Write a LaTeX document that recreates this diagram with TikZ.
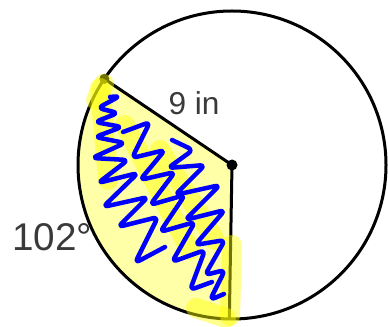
\documentclass[tikz,border=0pt]{standalone}
\usepackage{fontspec}
\setmainfont{Liberation Sans}
\usetikzlibrary{positioning}
\definecolor{MarkYellow}{HTML}{FFFF00}
\definecolor{PaleYellow}{HTML}{FFFFA8}
\definecolor{PenBlue}{HTML}{0000FF}
\definecolor{LabelGray}{HTML}{3A3A3A}

\begin{document}
\begin{tikzpicture}[
  x=0.02cm, y=-0.02cm,
  rim/.style={draw=black, line width=0.06cm},
  dot/.style={fill=black},
  marker/.style={draw=MarkYellow, draw opacity=0.45, line width=0.4cm, line cap=round},
  scribble/.style={draw=PenBlue, line width=0.09cm, line cap=round, line join=round, rounded corners=3pt},
  label/.style={text=LabelGray, inner sep=0pt}
]
\useasboundingbox (0,0) rectangle (388,327);
\coordinate (O) at (232,165);
\path (O) ++(-146:154) coordinate (A);
\path (O) ++(-269:154) coordinate (B);

% labels
\node[label, font=\fontsize{22}{22}\selectfont, anchor=west] (angle) at (12,237.5) {102°};
\node[label, font=\fontsize{18}{18}\selectfont] (radius) at (194,103.5) {9 in};

% shaded sector
\fill[PaleYellow] (O) -- (A) arc[start angle=-146, end angle=-269, radius=154] -- cycle;

% circle and radii
\draw[rim] (O) circle[radius=154];
\draw[rim] (A) -- (O) -- (B);
\fill[dot] (O) circle[radius=5.5];
\fill[dot] (A) circle[radius=5];

% highlighter
\draw[marker] (100,88) -- (108,180);
\draw[marker] (125,125) -- (190,250);
\draw[marker] (160,150) -- (215,240);
\draw[marker] (232,245) -- (230,316);
\draw[marker] (196,308) -- (226,318);
\draw[marker] (96,100) -- (104,84);

% scribble
\draw[scribble] (110,97) -- (120,96) -- (98,108) -- (118,113) -- (95,122) -- (122,127)
  -- (95,137) -- (125,143) -- (92,158) -- (128,160) -- (98,183) -- (138,173)
  -- (103,207) -- (148,197) -- (118,227) -- (158,217) -- (135,263) -- (165,247);
\draw[scribble] (123,132) -- (150,122) -- (132,158) -- (165,150) -- (140,180)
  -- (175,172) -- (150,205) -- (185,195) -- (160,232) -- (195,222) -- (172,262)
  -- (205,250) -- (190,290) -- (212,282);
\draw[scribble] (172,140) -- (193,150) -- (168,168) -- (205,165) -- (175,195)
  -- (220,185) -- (185,220) -- (225,210) -- (195,245) -- (225,240) -- (205,275)
  -- (225,270) -- (210,300) -- (224,294);
\end{tikzpicture}
\end{document}
